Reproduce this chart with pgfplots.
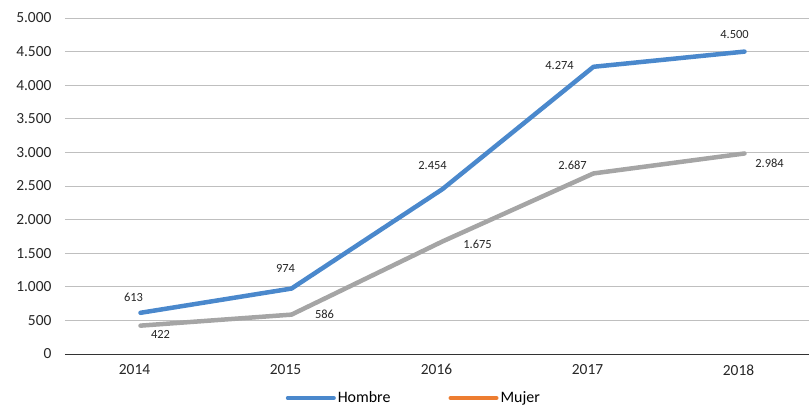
\documentclass[border=0pt]{standalone}
\usepackage{pgfplots}
\pgfplotsset{compat=1.18}
\usepackage{fontspec}
\setmainfont{Carlito}
\definecolor{cblue}{HTML}{4A88CC}
\definecolor{cgray}{HTML}{A5A5A5}
\definecolor{corange}{HTML}{ED7D31}
\definecolor{cgrid}{HTML}{BFBFBF}
\begin{document}
\begin{tikzpicture}
\begin{axis}[
  scale only axis,
  width=755bp, height=336bp,
  xmin=-0.5, xmax=4.5,
  ymin=0, ymax=5000,
  xtick={0,1,2,3,4},
  xticklabels={2014,2015,2016,2017,2018},
  ytick={0,500,...,5000},
  ymajorgrids,
  grid style={cgrid, line width=0.8bp},
  axis lines*=left,
  axis line style={draw=none},
  major tick length=0pt,
  tick style={draw=none},
  /pgf/number format/.cd, 1000 sep={.}, assume math mode=true,
  /pgfplots/.cd,
  ticklabel style={font=\fontsize{15.5}{17}\selectfont, text=black!85},
  yticklabel style={xshift=-10bp},
  xticklabel style={yshift=-7bp, xshift=-6bp},
  legend style={draw=none, fill=none, at={(0.462,-0.131)}, anchor=center, legend columns=2,
    font=\fontsize{16}{18}\selectfont, inner sep=0pt,
    /tikz/every even column/.append style={column sep=56bp}},
  legend cell align=left,
  legend image code/.code={\draw[#1, line width=4bp, line cap=round] (0bp,0bp) -- (46bp,0bp);},
  clip=false,
]
\draw[black!80, line width=1bp] (axis cs:-0.5,0) -- (axis cs:4.5,0);
\addplot[cblue, line width=4.5bp, line cap=round, line join=round, forget plot] coordinates {(0,613) (1,974) (2,2454) (3,4274) (4,4500)};
\addplot[cgray, line width=4.5bp, line cap=round, line join=round, forget plot] coordinates {(0,422) (1,586) (2,1675) (3,2687) (4,2984)};
\addlegendimage{cblue}
\addlegendentry{Hombre}
\addlegendimage{corange}
\addlegendentry{Mujer}
\begin{scope}[every node/.style={font=\fontsize{12.5}{14}\selectfont, text=black!85}]
\node at (axis cs:0,613) [xshift=-7bp,yshift=15bp] {613};
\node at (axis cs:1,974) [xshift=-6bp,yshift=20bp] {974};
\node at (axis cs:2,2454) [xshift=-10bp,yshift=24bp] {2.454};
\node at (axis cs:3,4274) [xshift=-34bp,yshift=1bp] {4.274};
\node at (axis cs:4,4500) [xshift=-10bp,yshift=17bp] {4.500};
\node at (axis cs:0,422) [xshift=20bp,yshift=-9bp] {422};
\node at (axis cs:1,586) [xshift=33bp,yshift=0bp] {586};
\node at (axis cs:2,1675) [xshift=35bp,yshift=-3bp] {1.675};
\node at (axis cs:3,2687) [xshift=-21bp,yshift=8bp] {2.687};
\node at (axis cs:4,2984) [xshift=25bp,yshift=-10bp] {2.984};
\end{scope}
\end{axis}
\pgfresetboundingbox
\path[use as bounding box] (-65bp,-52bp) rectangle (744bp,354bp);
\end{tikzpicture}
\end{document}
